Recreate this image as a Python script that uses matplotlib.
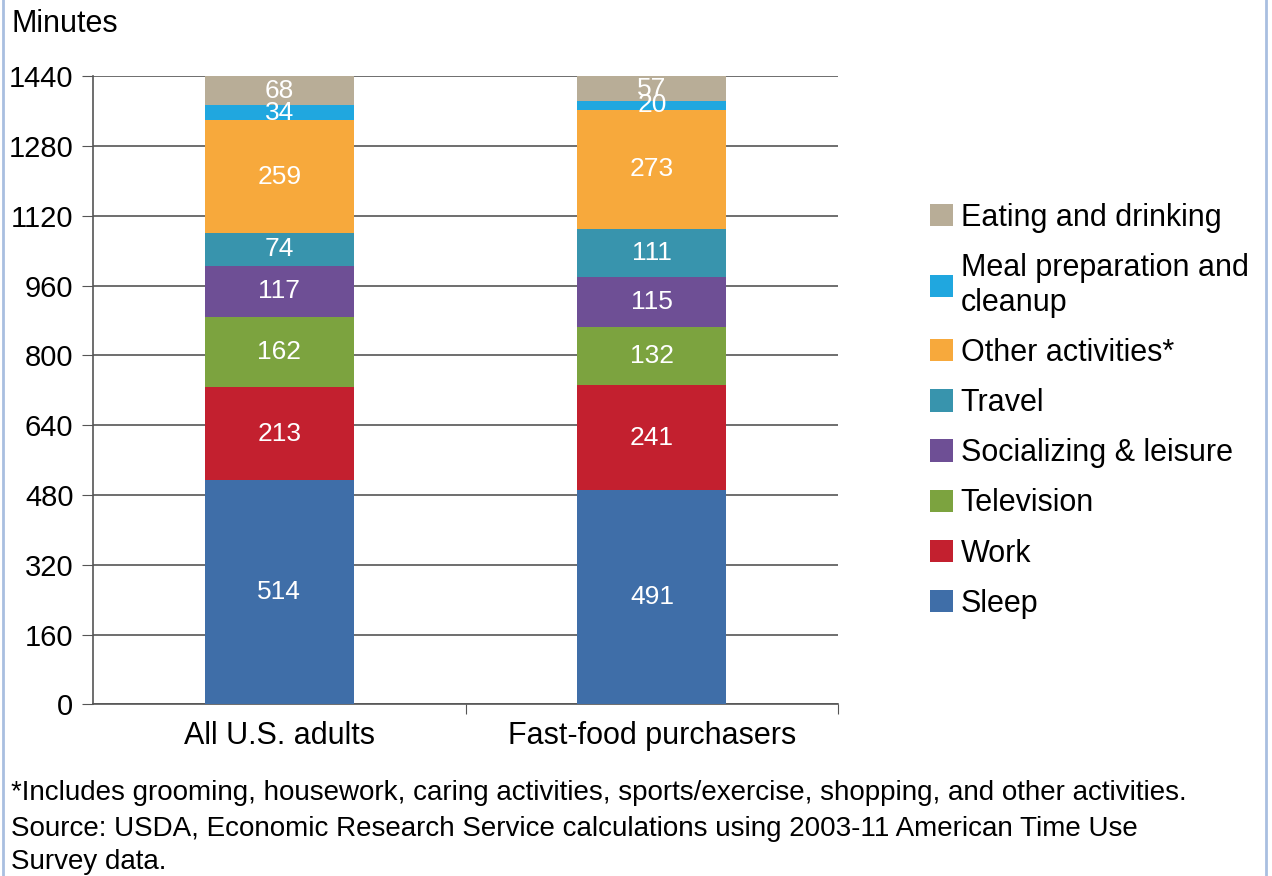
import numpy as np
import matplotlib.pyplot as plt
from matplotlib.patches import Rectangle

plt.rcParams['font.family'] = ['Liberation Sans', 'DejaVu Sans']

# Data (minutes per day), bottom to top
groups = ['All U.S. adults', 'Fast-food purchasers']
activities = ['Sleep', 'Work', 'Television', 'Socializing & leisure', 'Travel',
              'Other activities*', 'Meal preparation and\ncleanup', 'Eating and drinking']
all_adults = [514, 213, 162, 117, 74, 259, 34, 68]
fast_food = [491, 241, 132, 115, 111, 273, 20, 57]
colors = ['#3f6ea8', '#c3202f', '#7ca33f', '#6e4f95', '#3894ad',
          '#f7a93c', '#20a7df', '#b8ad97']
yticks = [0, 160, 320, 480, 640, 800, 960, 1120, 1280, 1440]

fig = plt.figure(figsize=(12.72, 8.76), dpi=100)
ax = fig.add_axes([0.073, 0.196, 0.586, 0.717])

x = np.arange(len(groups))
values = np.array([all_adults, fast_food])
bottom = np.zeros(len(groups))
handles = []
for i, act in enumerate(activities):
    h = ax.bar(x, values[:, i], 0.4, bottom=bottom, color=colors[i], label=act, zorder=3)
    handles.append(h)
    for j in range(len(groups)):
        ax.text(x[j], bottom[j] + values[j, i] / 2, str(values[j, i]), ha='center', va='center',
                color='white', fontsize=19, zorder=4)
    bottom += values[:, i]

ax.set_xlim(-0.5, 1.5)
ax.set_ylim(0, 1440)
ax.set_yticks(yticks)
ax.set_yticklabels([str(t) for t in yticks], fontsize=21)
ax.set_xticks([0.5, 1.5], minor=False)
ax.set_xticklabels(['', ''])
ax.set_xticks(x, minor=True)
ax.set_xticklabels(groups, minor=True, fontsize=22)
ax.tick_params(axis='x', which='minor', length=0, pad=12)
ax.tick_params(axis='x', which='major', length=7, color='#555555', direction='out')
ax.tick_params(axis='y', length=8, color='#555555', pad=6)
ax.grid(axis='y', color='#555555', linewidth=1.2, zorder=0)
for s in ['top', 'right']:
    ax.spines[s].set_visible(False)
for s in ['left', 'bottom']:
    ax.spines[s].set_color('#555555')
    ax.spines[s].set_linewidth(1.2)

fig.text(0.009, 0.99, 'Minutes', fontsize=22, va='top', ha='left')

fig.legend(handles[::-1], activities[::-1], loc='center left', bbox_to_anchor=(0.7215, 0.531),
           frameon=False, fontsize=22, handlelength=0.75, handleheight=0.75,
           handletextpad=0.25, labelspacing=0.66, borderaxespad=0)

fig.text(0.009, 0.095, '*Includes grooming, housework, caring activities, sports/exercise, shopping, and other activities.',
         fontsize=20, ha='left', va='center')
fig.text(0.009, 0.054, 'Source: USDA, Economic Research Service calculations using 2003-11 American Time Use',
         fontsize=20, ha='left', va='center')
fig.text(0.009, 0.016, 'Survey data.', fontsize=20, ha='left', va='center')

# light frame at the edges
fig.patches.append(Rectangle((0.002, -0.01), 0.993, 1.02, transform=fig.transFigure,
                             fill=False, edgecolor='#a9bfe0', linewidth=2))

fig.savefig('out.png', dpi=100)
